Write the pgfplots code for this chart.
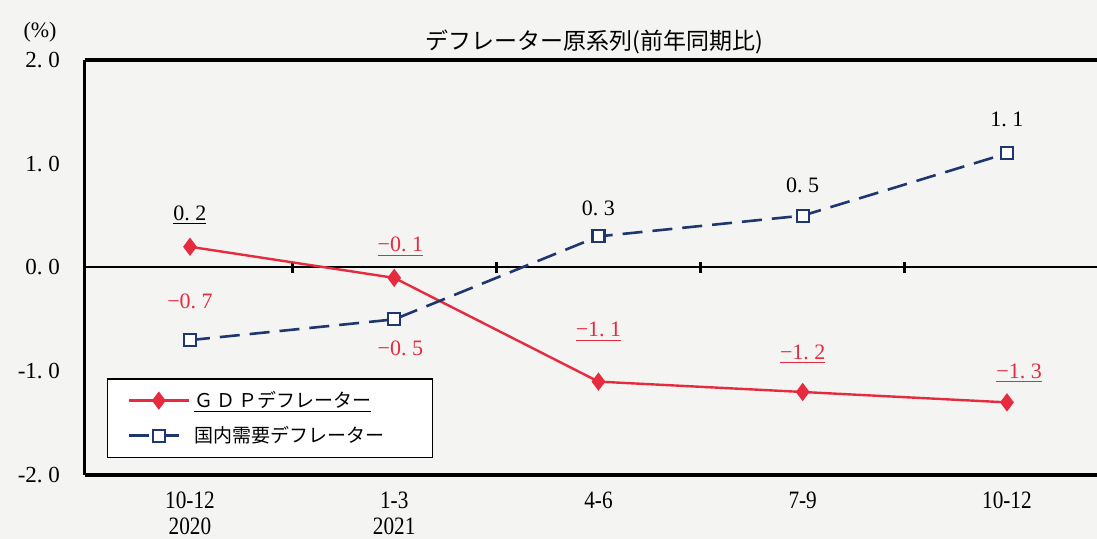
\documentclass[border=0pt]{standalone}
\usepackage{pgfplots}
\pgfplotsset{compat=1.18}
\usepackage{fontspec}
\setmainfont{Liberation Serif}
\newfontfamily\jp{Noto Sans CJK JP}
\newfontfamily\cond[FakeStretch=0.85]{Liberation Serif}
\usetikzlibrary{calc, backgrounds}
\definecolor{gdpred}{HTML}{E62B3F}
\definecolor{dnavy}{HTML}{1E3770}
\definecolor{paper}{HTML}{F4F4F2}

\begin{document}
\begin{tikzpicture}
\begin{axis}[
  scale only axis,
  width=506pt, height=207.5pt,
  xmin=-0.514, xmax=4.441,
  ymin=-2, ymax=2,
  clip=false,
  axis line style={draw=none},
  xtick={0,1,2,3,4},
  xticklabels={{10-12\\[-0.5pt]2020}, {1-3\\[-0.5pt]2021}, 4-6, 7-9, 10-12},
  xticklabel style={align=center, font=\cond\fontsize{12.5}{13.5}\selectfont, anchor=north, yshift=-5pt},
  xtick style={draw=none},
  ytick={-2,-1,0,1,2},
  yticklabels={-2.~0, -1.~0, 0.~0, 1.~0, 2.~0},
  yticklabel style={font=\fontsize{11.5}{13}\selectfont, anchor=east, xshift=-9pt},
  ytick style={draw=none},
  legend style={at={(rel axis cs:0.0217,0.041)}, anchor=south west,
    draw=black, line width=0.6pt, fill=white,
    font=\jp\fontsize{9.5}{11}\selectfont,
    inner xsep=10pt, inner ysep=4pt, row sep=4pt,
    /tikz/every even column/.append style={column sep=6pt},
    cells={anchor=west}},
  legend image code/.code={\draw[mark repeat=2,mark phase=2,#1] plot coordinates {(0pt,0pt) (15pt,0pt) (30pt,0pt)};},
  legend cell align=left,
]
% frame: left, top, bottom
\draw[line width=1.5pt] (rel axis cs:0,0) -- (rel axis cs:0,1);
\draw[line width=2pt] (rel axis cs:0,1) -- (rel axis cs:1,1);
\draw[line width=2pt] (rel axis cs:0,0) -- (rel axis cs:1,0);
% zero line with ticks between quarters
\draw[line width=1pt] (rel axis cs:0,0.5) -- (rel axis cs:1,0.5);
\draw[line width=1.4pt] (axis cs:0.5,-0.055) -- (axis cs:0.5,0.055);
\draw[line width=1.4pt] (axis cs:1.5,-0.055) -- (axis cs:1.5,0.055);
\draw[line width=1.4pt] (axis cs:2.5,-0.055) -- (axis cs:2.5,0.055);
\draw[line width=1.4pt] (axis cs:3.5,-0.055) -- (axis cs:3.5,0.055);

\addplot[gdpred, line width=1.2pt, mark=diamond*, mark size=3.6pt, mark options={fill=gdpred, solid}]
  coordinates {(0,0.2) (1,-0.1) (2,-1.1) (3,-1.2) (4,-1.3)};
\addlegendentry{\underline{Ｇ\,Ｄ\,Ｐデフレーター}}
\addplot[dnavy, line width=1.3pt, dash pattern=on 10pt off 5pt, mark=square*, mark size=3pt, mark options={fill=white, solid, line width=1.1pt}]
  coordinates {(0,-0.7) (1,-0.5) (2,0.3) (3,0.5) (4,1.1)};
\addlegendentry{国内需要デフレーター\hspace*{12pt}}

% data labels
\begin{scope}[font=\fontsize{11}{13}\selectfont]
\node at (axis cs:0,0.5) {\underline{0.~2}};
\node[gdpred] at (axis cs:1.03,0.2) {\underline{−0.~1}};
\node[gdpred] at (axis cs:2,-0.62) {\underline{−1.~1}};
\node[gdpred] at (axis cs:3,-0.84) {\underline{−1.~2}};
\node[gdpred] at (axis cs:4.06,-1.02) {\underline{−1.~3}};
\node[gdpred] at (axis cs:0,-0.33) {−0.~7};
\node[gdpred] at (axis cs:1.03,-0.78) {−0.~5};
\node at (axis cs:2,0.57) {0.~3};
\node at (axis cs:3,0.79) {0.~5};
\node at (axis cs:4,1.43) {1.~1};
\end{scope}

\node[font=\fontsize{11}{13}\selectfont] at ([xshift=-22.5pt,yshift=14pt]rel axis cs:0,1) {(\%)};
\node[font=\jp\fontsize{11.5}{13}\selectfont] at ([xshift=0pt,yshift=9pt]rel axis cs:0.503,1) {デフレーター原系列(前年同期比)};
\end{axis}
\pgfresetboundingbox
\path ($(current axis.south west)+(-42.5pt,-32pt)$) coordinate (bbl) rectangle ($(current axis.north east)+(0,30pt)$) coordinate (bbr);
\begin{scope}[on background layer]
\fill[paper] (bbl) rectangle (bbr);
\end{scope}
\end{tikzpicture}
\end{document}
